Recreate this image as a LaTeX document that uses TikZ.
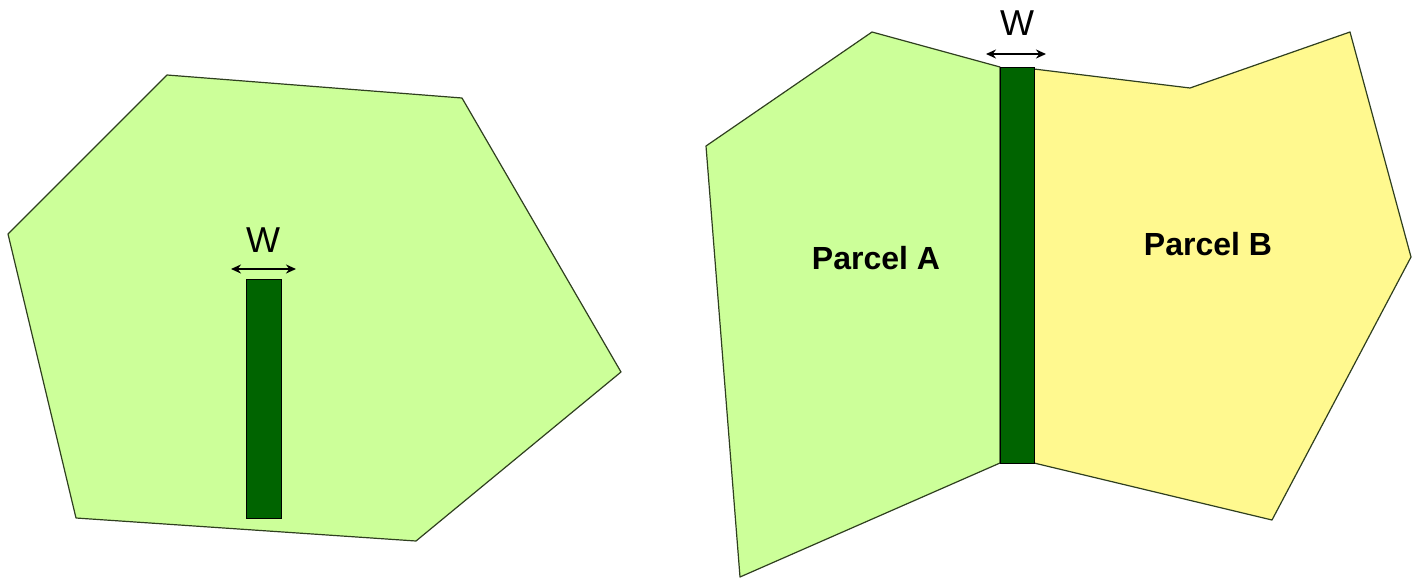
\documentclass[tikz,border=0pt]{standalone}
\usepackage{fontspec}
\setmainfont{Liberation Sans}
\usetikzlibrary{arrows.meta}
\definecolor{lgreen}{HTML}{CCFF99}
\definecolor{dgreen}{HTML}{006400}
\definecolor{lyellow}{HTML}{FFF98F}
\definecolor{edge}{HTML}{2F3F1F}
\tikzset{
  parcel/.style={draw=edge, line width=1.2pt, line join=round},
  strip/.style={draw=black, line width=1pt, fill=dgreen},
  widtharrow/.style={{Stealth[length=10pt,width=9pt]}-{Stealth[length=10pt,width=9pt]}, line width=1.8pt},
  wlabel/.style={font=\fontsize{36}{40}\selectfont, inner sep=0pt},
  plabel/.style={font=\fontsize{32}{38}\selectfont\bfseries, inner sep=0pt}
}
\begin{document}
\begin{tikzpicture}[x=1pt,y=-1pt]
\useasboundingbox (0,0) rectangle (1416,579);
% left parcel
\draw[parcel, fill=lgreen] (167,75) -- (462,98) -- (621,372) -- (416,541) -- (76,518) -- (8,234) -- cycle;
\draw[strip] (246,279) rectangle (281,518);
\coordinate (la) at (231,269);
\coordinate (lb) at (296,269);
\draw[widtharrow] (la) -- (lb);
\node[wlabel] (w1) at (263,240) {W};
% right parcels
\draw[parcel, fill=lgreen] (706,146) -- (872,32) -- (1000,67) -- (1000,463) -- (740,577) -- cycle;
\draw[parcel, fill=lyellow] (1034,69) -- (1190,88) -- (1350,32) -- (1411,257) -- (1272,520) -- (1034,463) -- cycle;
\draw[strip] (1000,67) rectangle (1034,463);
\coordinate (ra) at (986,54);
\coordinate (rb) at (1046,54);
\draw[widtharrow] (ra) -- (rb);
\node[wlabel] (w2) at (1017,23) {W};
\node[plabel] (pa) at (876,258) {Parcel A};
\node[plabel] (pb) at (1208,244) {Parcel B};
\end{tikzpicture}
\end{document}
